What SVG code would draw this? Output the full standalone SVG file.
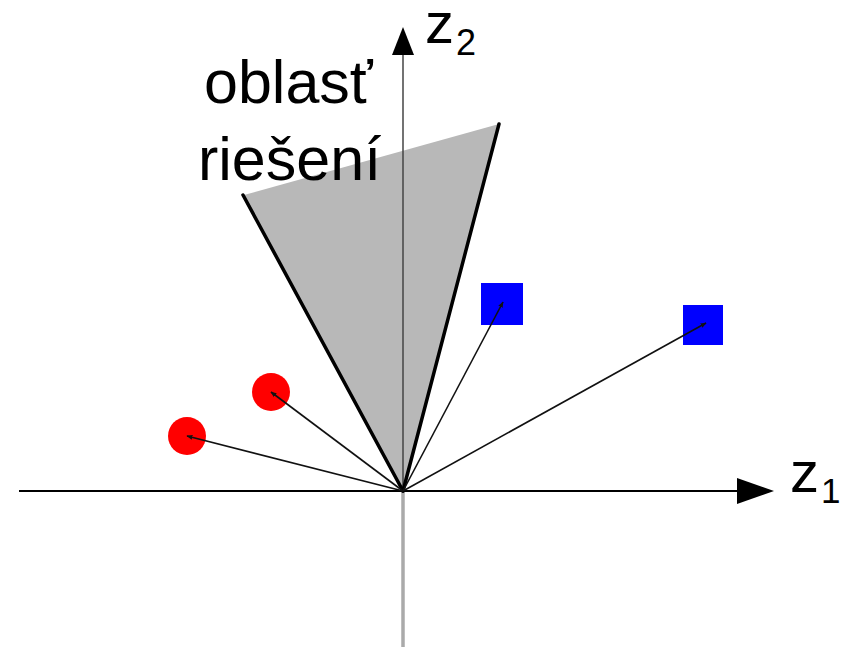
<svg xmlns="http://www.w3.org/2000/svg" width="846" height="647" viewBox="0 0 846 647">
  <defs>
    <style>
      .lbl { font-family: "Liberation Sans", Arial, sans-serif; fill: #000; }
      .vec { stroke: #111; stroke-width: 1.6; fill: none; marker-end: url(#tip); }
      .edge { stroke: #000; stroke-width: 3.5; stroke-linecap: round; fill: none; }
      .pt { fill: #ff0000; }
      .sq { fill: #0000ff; }
    </style>
    <marker id="tip" viewBox="0 0 10 10" refX="9" refY="5" markerWidth="6" markerHeight="6" markerUnits="userSpaceOnUse" orient="auto">
      <path d="M0,1 L10,5 L0,9 Z" fill="#111"/>
    </marker>
  </defs>
  <rect width="846" height="647" fill="#fff"/>

  <g id="region">
    <polygon points="244,195 499,124 403,491" fill="#b8b8b8"/>
  </g>

  <g id="axes">
    <line x1="403" y1="491" x2="403" y2="647" stroke="#aaaaaa" stroke-width="3.5"/>
    <line x1="403" y1="491" x2="403" y2="52" stroke="#444" stroke-width="1.5"/>
    <polygon points="403,27 392,55 414,55" fill="#000"/>
    <line x1="19" y1="491" x2="740" y2="491" stroke="#000" stroke-width="2.2"/>
    <polygon points="774,491 737,478 737,504" fill="#000"/>
  </g>

  <g id="boundaries">
    <line class="edge" x1="243" y1="195" x2="403" y2="491"/>
    <line class="edge" x1="499" y1="124" x2="403" y2="491"/>
  </g>

  <g id="point-red-1"><circle class="pt" cx="187" cy="436" r="19"/></g>
  <g id="point-red-2"><circle class="pt" cx="271" cy="392" r="19"/></g>
  <g id="point-blue-1"><rect class="sq" x="481" y="283" width="42" height="42"/></g>
  <g id="point-blue-2"><rect class="sq" x="683" y="305" width="40" height="40"/></g>

  <g id="connectors">
    <line class="vec" x1="403" y1="491" x2="187" y2="436"/>
    <line class="vec" x1="403" y1="491" x2="271" y2="392"/>
    <line class="vec" x1="403" y1="491" x2="503" y2="302"/>
    <line class="vec" x1="403" y1="491" x2="706" y2="323"/>
  </g>

  <g id="labels">
    <text class="lbl" x="204" y="103" font-size="61">oblasť</text>
    <text class="lbl" x="198" y="180" font-size="61">riešení</text>
    <text class="lbl" x="425" y="43" font-size="58">z<tspan font-size="36" dy="12" dx="2">2</tspan></text>
    <text class="lbl" x="790" y="492" font-size="58">z<tspan font-size="35" dy="11" dx="2">1</tspan></text>
  </g>
</svg>
